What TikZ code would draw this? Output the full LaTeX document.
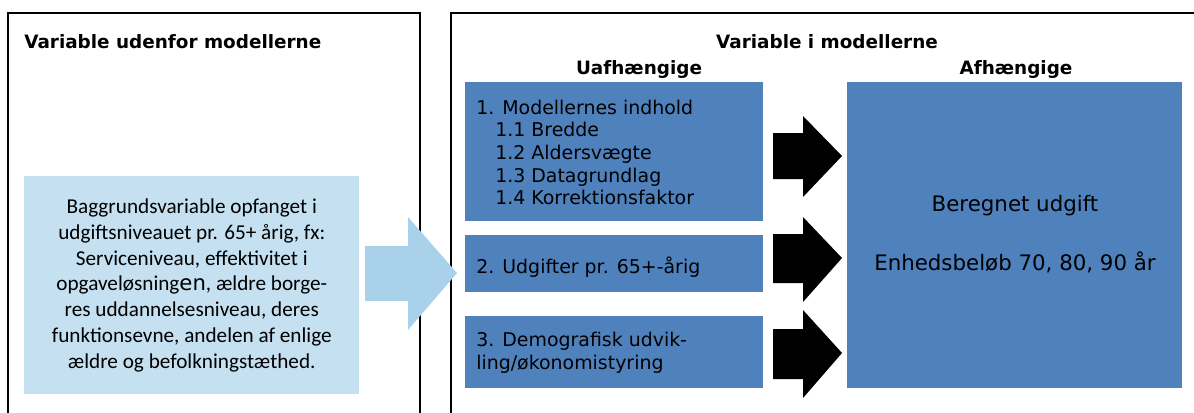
\documentclass[tikz,border=0pt]{standalone}
\usepackage{fontspec}
\setmainfont{DejaVu Sans}
\newfontfamily\calib{Carlito}
\definecolor{lightbox}{HTML}{C5E0F1}
\definecolor{lightarrow}{HTML}{A9D2EA}
\definecolor{darkbox}{HTML}{4F81BD}
\begin{document}
\begin{tikzpicture}[x=0.75pt,y=-0.75pt,
  frame/.style={line width=1.6pt},
  heading/.style={font=\bfseries\fontsize{13.8}{17}\selectfont, inner sep=0pt},
  bluebox/.style={fill=darkbox, draw=none, inner sep=0pt, anchor=north west, text=black},
  bigtext/.style={font=\fontsize{14.2}{17}\selectfont, inner sep=0pt},
  blockarrow/.style={fill=black, draw=none}
]
\useasboundingbox (0,0) rectangle (1194,412);
% frames
\draw[frame] (8,414) -- (8,13) -- (420,13) -- (420,414);
\draw[frame] (451,414) -- (451,13) -- (1196,13);
% headings
\node[heading, anchor=west] (hleft) at (24,42) {Variable udenfor modellerne};
\node[heading] (hright) at (827,42) {Variable i modellerne};
\node[heading] (huaf) at (639,69) {Uafhængige};
\node[heading] (haf) at (1016,69) {Afhængige};
% light blue box
\node[fill=lightbox, inner sep=0pt, anchor=north west,
      minimum width=251.25pt, minimum height=163.5pt, align=center,
      font=\calib\fontsize{15.9}{19.35}\selectfont] (bg) at (24,176)
 {Baggrundsvariable opfanget i\\
  udgiftsniveauet pr. 65+ årig, fx:\\
  Serviceniveau, effektivitet i\\
  opgaveløsning{\fontspec{DejaVu Sans}\fontsize{15.9}{19.35}\selectfont en}, ældre borge-\\
  res uddannelsesniveau, deres\\
  funktionsevne, andelen af enlige\\
  ældre og befolkningstæthed.};
% light blue arrow
\fill[lightarrow] (365,246) -- (408,246) -- (408,217) -- (457,273) -- (408,330) -- (408,301) -- (365,301) -- cycle;
% dark blue boxes
\node[bluebox, minimum width=223.5pt, minimum height=104.25pt] (b1) at (465,82) {};
\node[bigtext, anchor=west, align=left, text=black] (t1) at (476,152.5)
 {1. Modellernes indhold\\
  \hspace*{14.25pt}1.1 Bredde\\
  \hspace*{14.25pt}1.2 Aldersvægte\\
  \hspace*{14.25pt}1.3 Datagrundlag\\
  \hspace*{14.25pt}1.4 Korrektionsfaktor};
\node[bluebox, minimum width=223.5pt, minimum height=42.75pt] (b2) at (465,235) {};
\node[bigtext, anchor=west, text=black] (t2) at (476,267) {2. Udgifter pr. 65+-årig};
\node[bluebox, minimum width=223.5pt, minimum height=54pt] (b3) at (465,316) {};
\node[bigtext, anchor=west, align=left, text=black] (t3) at (476,353)
 {3. Demografisk udvik-\\ling/økonomistyring};
% big box
\node[bluebox, minimum width=251.25pt, minimum height=229.5pt] (big) at (847,82) {};
\node[align=center, font=\fontsize{16}{44}\selectfont, text=black] (tb) at (1015,234)
 {Beregnet udgift\\Enhedsbeløb 70, 80, 90 år};
% black arrows
\fill[blockarrow] (773,133) -- (803,133) -- (803,116) -- (842,156) -- (803,197) -- (803,179) -- (773,179) -- cycle;
\fill[blockarrow] (773,234) -- (803,234) -- (803,217) -- (842,258) -- (803,302) -- (803,283) -- (773,283) -- cycle;
\fill[blockarrow] (773,329) -- (803,329) -- (803,310) -- (842,353) -- (803,398) -- (803,379) -- (773,379) -- cycle;
\end{tikzpicture}
\end{document}
